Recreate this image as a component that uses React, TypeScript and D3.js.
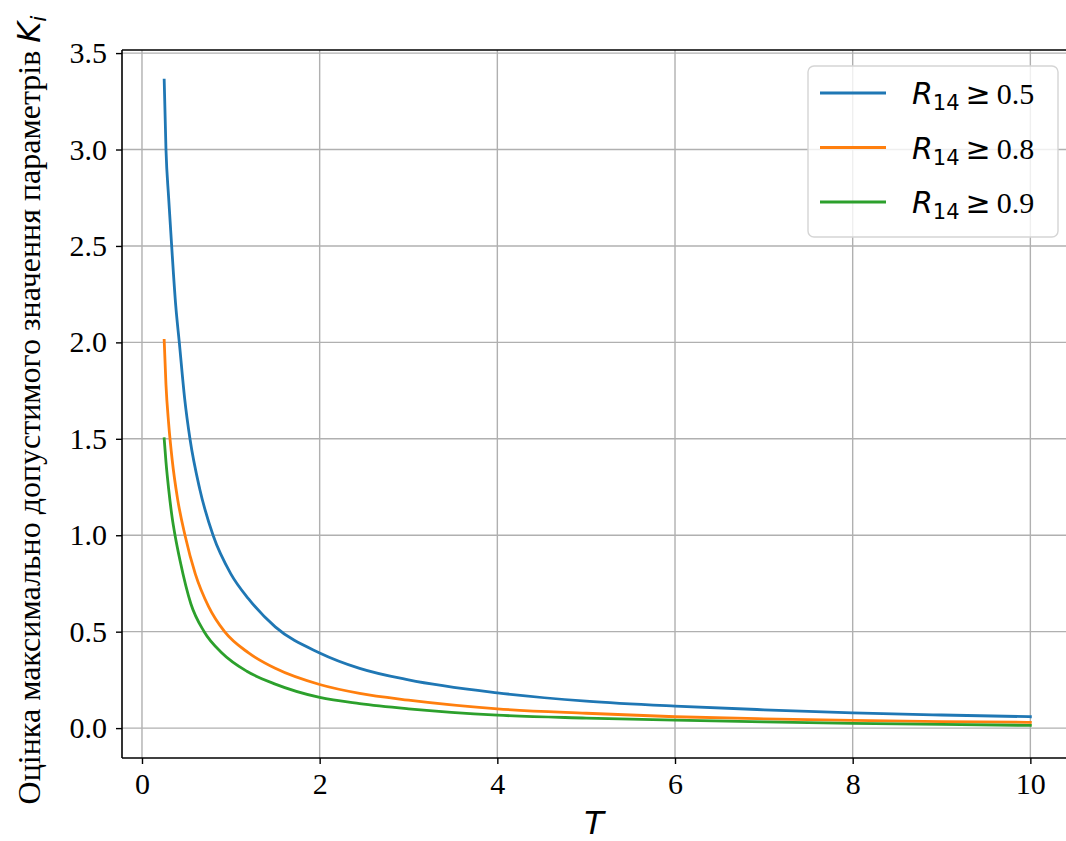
import React, { useEffect, useRef } from "react";
import * as d3 from "d3";

// axis setup
const xTicks = [0, 2, 4, 6, 8, 10];
const yTicks = [0, 0.5, 1.0, 1.5, 2.0, 2.5, 3.0, 3.5];
const xLimits = [-0.225, 10.48];
const yLimits = [-0.155, 3.516];

// R14 >= 0.5
const tBlue = [0.25, 0.27, 0.3, 0.334, 0.38, 0.42, 0.48, 0.54, 0.65, 0.8, 1.0, 1.2, 1.5, 2.0, 2.45, 3.0, 4.0, 5.0, 6.0, 7.0, 8.0, 9.0, 10.0];
const kBlue = [3.36, 3.0, 2.75, 2.5, 2.19, 2.0, 1.71, 1.5, 1.24, 1.0, 0.8, 0.67, 0.525, 0.39, 0.31, 0.25, 0.183, 0.14, 0.114, 0.095, 0.079, 0.068, 0.059];

// R14 >= 0.8
const tOrange = [0.25, 0.27, 0.3, 0.34, 0.4, 0.484, 0.6, 0.75, 0.93, 1.2, 1.5, 2.0, 2.45, 3.0, 4.0, 5.0, 6.0, 7.0, 8.0, 9.0, 10.0];
const kOrange = [2.01, 1.78, 1.58, 1.39, 1.19, 1.0, 0.8, 0.63, 0.5, 0.39, 0.31, 0.226, 0.18, 0.145, 0.1, 0.077, 0.059, 0.048, 0.04, 0.034, 0.03];

// R14 >= 0.9
const tGreen = [0.25, 0.27, 0.3, 0.34, 0.372, 0.43, 0.55, 0.7, 0.9, 1.18, 1.5, 2.0, 2.45, 3.0, 4.0, 5.0, 6.0, 7.0, 8.0, 9.0, 10.0];
const kGreen = [1.5, 1.38, 1.24, 1.09, 1.0, 0.865, 0.645, 0.5, 0.39, 0.295, 0.228, 0.159, 0.127, 0.1, 0.067, 0.052, 0.041, 0.032, 0.025, 0.019, 0.014];

const seriesLevels = ["0.5", "0.8", "0.9"];
const seriesColors = ["#1f77b4", "#ff7f0e", "#2ca02c"];

const serif = "'Liberation Serif', 'Times New Roman', serif";
const sans = "'DejaVu Sans', sans-serif";

const App = () => {
  const svgRef = useRef<SVGSVGElement>(null);

  useEffect(() => {
    const width = 1066;
    const height = 841;
    const left = 122;
    const right = 1073;
    const top = 50;
    const bottom = 758;
    const edge = Math.min(right, width); // plot runs off the right side

    const svg = d3.select(svgRef.current);
    svg.selectAll("*").remove();
    svg.attr("width", width).attr("height", height);

    const x = d3.scaleLinear().domain(xLimits).range([left, right]);
    const y = d3.scaleLinear().domain(yLimits).range([bottom, top]);

    svg.append("rect").attr("width", width).attr("height", height).attr("fill", "#fff");

    // grid
    const grid = svg.append("g");
    xTicks.forEach((t) => {
      grid
        .append("line")
        .attr("x1", x(t))
        .attr("x2", x(t))
        .attr("y1", top)
        .attr("y2", bottom)
        .attr("stroke", "#b0b0b0")
        .attr("stroke-width", 1.4);
    });
    yTicks.forEach((t) => {
      grid
        .append("line")
        .attr("x1", left)
        .attr("x2", edge)
        .attr("y1", y(t))
        .attr("y2", y(t))
        .attr("stroke", "#b0b0b0")
        .attr("stroke-width", 1.4);
    });

    // curves
    const allT = [tBlue, tOrange, tGreen];
    const allK = [kBlue, kOrange, kGreen];
    const line = d3
      .line<[number, number]>()
      .x((d) => x(d[0]))
      .y((d) => y(d[1]))
      .curve(d3.curveMonotoneX);

    allT.forEach((ts, i) => {
      const pts = ts.map((t, j) => [t, allK[i][j]] as [number, number]);
      svg
        .append("path")
        .attr("d", line(pts))
        .attr("fill", "none")
        .attr("stroke", seriesColors[i])
        .attr("stroke-width", 2.8)
        .attr("stroke-linecap", "square");
    });

    // axes
    const xAxis = svg
      .append("g")
      .attr("transform", `translate(0,${bottom})`)
      .call(d3.axisBottom(x).tickValues(xTicks).tickSize(6).tickPadding(9).tickFormat(d3.format("d")));
    const yAxis = svg
      .append("g")
      .attr("transform", `translate(${left},0)`)
      .call(d3.axisLeft(y).tickValues(yTicks).tickSize(6).tickPadding(9).tickFormat(d3.format(".1f")));

    [xAxis, yAxis].forEach((g) => {
      g.select(".domain").remove();
      g.selectAll("line").attr("stroke", "#000").attr("stroke-width", 1.4);
      g.selectAll("text")
        .attr("fill", "#000")
        .style("font-family", serif)
        .style("font-size", "30px");
    });

    // spines
    svg.append("line").attr("x1", left).attr("x2", left).attr("y1", top).attr("y2", bottom).attr("stroke", "#000").attr("stroke-width", 1.6);
    svg.append("line").attr("x1", left).attr("x2", edge).attr("y1", bottom).attr("y2", bottom).attr("stroke", "#000").attr("stroke-width", 1.6);
    svg.append("line").attr("x1", left).attr("x2", edge).attr("y1", top).attr("y2", top).attr("stroke", "#000").attr("stroke-width", 1.6);

    // x label
    svg
      .append("text")
      .attr("x", 594)
      .attr("y", 834)
      .attr("text-anchor", "middle")
      .style("font-family", sans)
      .style("font-style", "italic")
      .style("font-size", "32px")
      .text("T");

    // y label
    const yl = svg
      .append("text")
      .attr("transform", `translate(40,410) rotate(-90)`)
      .attr("text-anchor", "middle")
      .style("font-family", serif)
      .style("font-size", "32px");
    yl.append("tspan").text("Оцінка максимально допустимого значення параметрів ");
    yl.append("tspan").style("font-family", sans).style("font-style", "italic").text("K");
    yl.append("tspan").style("font-family", sans).style("font-style", "italic").style("font-size", "22px").attr("dy", 6).text("i");

    // legend
    const lg = svg.append("g");
    lg.append("rect")
      .attr("x", 808)
      .attr("y", 66)
      .attr("width", 250)
      .attr("height", 171)
      .attr("rx", 6)
      .attr("fill", "#fff")
      .attr("fill-opacity", 0.8)
      .attr("stroke", "#d5d5d5")
      .attr("stroke-width", 1.4);

    seriesLevels.forEach((lvl, i) => {
      const ly = 93 + i * 54.5;
      lg.append("line")
        .attr("x1", 820)
        .attr("x2", 886)
        .attr("y1", ly)
        .attr("y2", ly)
        .attr("stroke", seriesColors[i])
        .attr("stroke-width", 2.8);
      const t = lg
        .append("text")
        .attr("x", 912)
        .attr("y", ly + 11)
        .style("font-size", "30px")
        .attr("fill", "#000");
      t.append("tspan").style("font-family", sans).style("font-style", "italic").text("R");
      t.append("tspan").style("font-family", sans).style("font-size", "21px").attr("dy", 6).text("14");
      t.append("tspan").style("font-family", sans).attr("dy", -6).attr("dx", 6).text("≥");
      t.append("tspan").style("font-family", serif).attr("dx", 6).text(lvl);
    });
  }, []);

  return (
    <div style={{ position: "absolute", left: 0, top: 0, width: 1066, height: 841, overflow: "hidden" }}>
      <svg ref={svgRef} style={{ display: "block" }} />
    </div>
  );
};

export default App;
